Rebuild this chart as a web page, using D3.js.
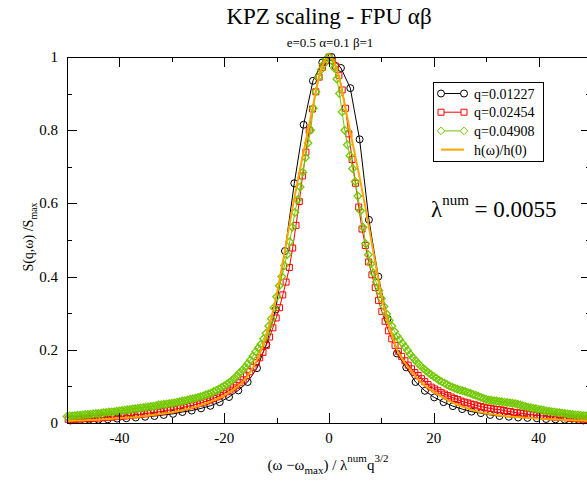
<!DOCTYPE html>
<html>
<head>
<meta charset="utf-8">
<script src="https://cdn.jsdelivr.net/npm/d3@7"></script>
<style>
  body { margin: 0; background: #fff; }
</style>
</head>
<body>
<svg id="chart" width="587" height="482"></svg>
<script>
// series labels
const seriesLabels = ["q=0.01227", "q=0.02454", "q=0.04908", "h(\u03c9)/h(0)"];

// q=0.01227 (sampled every 1.78 units)
const q1Start = -49.34, q1Step = 1.78;
const q1Values = [0.007, 0.008, 0.009, 0.009, 0.010, 0.012, 0.013, 0.015, 0.017, 0.019,
  0.022, 0.025, 0.030, 0.034, 0.040, 0.047, 0.057, 0.071, 0.089, 0.112,
  0.150, 0.215, 0.31, 0.47, 0.655, 0.815, 0.935, 0.985, 1.0,
  0.97, 0.915, 0.775, 0.555, 0.40, 0.285, 0.19, 0.152, 0.112, 0.088,
  0.070, 0.057, 0.046, 0.038, 0.031, 0.027, 0.022, 0.019, 0.017, 0.015,
  0.014, 0.013, 0.011, 0.010, 0.009, 0.008, 0.007];

// q=0.02454 (sampled every 0.63 units)
const q2Start = -49.77, q2Step = 0.63;
const q2Values = [0.010, 0.010, 0.010, 0.011, 0.011, 0.012, 0.012, 0.013, 0.013, 0.014,
  0.014, 0.015, 0.016, 0.016, 0.017, 0.018, 0.018, 0.019, 0.020, 0.021,
  0.022, 0.023, 0.024, 0.025, 0.026, 0.028, 0.029, 0.030, 0.031, 0.033,
  0.034, 0.036, 0.037, 0.039, 0.041, 0.043, 0.045, 0.047, 0.049, 0.052,
  0.054, 0.057, 0.060, 0.063, 0.067, 0.071, 0.075, 0.080, 0.085, 0.090,
  0.096, 0.102, 0.110, 0.118, 0.129, 0.140, 0.152, 0.165, 0.178, 0.193,
  0.212, 0.235, 0.260, 0.287, 0.315, 0.350, 0.385, 0.425, 0.478, 0.540,
  0.605, 0.675, 0.740, 0.800, 0.858, 0.905, 0.945, 0.972, 0.990, 1.0,
  0.99, 0.975, 0.95, 0.91, 0.86, 0.79, 0.72, 0.655, 0.59, 0.53,
  0.485, 0.44, 0.405, 0.37, 0.335, 0.305, 0.278, 0.252, 0.23, 0.212,
  0.196, 0.182, 0.17, 0.158, 0.148, 0.138, 0.13, 0.121, 0.113, 0.105,
  0.098, 0.093, 0.088, 0.083, 0.079, 0.075, 0.071, 0.067, 0.064, 0.06,
  0.057, 0.055, 0.052, 0.05, 0.047, 0.045, 0.043, 0.041, 0.04, 0.038,
  0.037, 0.036, 0.034, 0.032, 0.031, 0.029, 0.028, 0.027, 0.026, 0.024,
  0.023, 0.022, 0.021, 0.02, 0.019, 0.018, 0.017, 0.017, 0.016, 0.015,
  0.015, 0.014, 0.013, 0.013, 0.012, 0.011, 0.011, 0.010, 0.010];

// q=0.04908 (sampled every 0.5 units)
const q3Start = -50, q3Step = 0.5;
const q3Values = [0.018, 0.019, 0.019, 0.020, 0.021, 0.021, 0.022, 0.023, 0.023, 0.024,
  0.025, 0.026, 0.026, 0.027, 0.028, 0.029, 0.030, 0.030, 0.031, 0.032,
  0.033, 0.034, 0.035, 0.036, 0.037, 0.038, 0.039, 0.040, 0.041, 0.042,
  0.043, 0.044, 0.045, 0.046, 0.047, 0.049, 0.050, 0.051, 0.052, 0.053,
  0.054, 0.055, 0.057, 0.058, 0.060, 0.061, 0.063, 0.065, 0.066, 0.068,
  0.070, 0.072, 0.074, 0.077, 0.079, 0.082, 0.086, 0.089, 0.093, 0.097,
  0.101, 0.106, 0.111, 0.117, 0.123, 0.130, 0.138, 0.145, 0.153, 0.162,
  0.172, 0.183, 0.195, 0.205, 0.215, 0.230, 0.245, 0.265, 0.285, 0.315,
  0.345, 0.375, 0.400, 0.430, 0.460, 0.495, 0.535, 0.575, 0.610, 0.645,
  0.685, 0.725, 0.765, 0.800, 0.860, 0.905, 0.945, 0.965, 0.980, 0.995,
  1.0,
  0.990, 0.970, 0.940, 0.900, 0.850, 0.800, 0.760, 0.730, 0.695, 0.660,
  0.620, 0.580, 0.535, 0.490, 0.460, 0.435, 0.410, 0.385, 0.362, 0.340,
  0.318, 0.298, 0.280, 0.265, 0.250, 0.238, 0.228, 0.218, 0.208, 0.198,
  0.188, 0.179, 0.171, 0.163, 0.156, 0.149, 0.143, 0.137, 0.132, 0.127,
  0.122, 0.117, 0.113, 0.109, 0.105, 0.101, 0.098, 0.095, 0.092, 0.090,
  0.088, 0.086, 0.083, 0.081, 0.078, 0.076, 0.073, 0.070, 0.067, 0.065,
  0.063, 0.062, 0.061, 0.060, 0.059, 0.058, 0.057, 0.056, 0.055, 0.054,
  0.053, 0.051, 0.049, 0.047, 0.045, 0.043, 0.042, 0.040, 0.039, 0.037,
  0.036, 0.035, 0.033, 0.032, 0.031, 0.030, 0.029, 0.028, 0.027, 0.026,
  0.025, 0.024, 0.023, 0.022, 0.022, 0.021, 0.020, 0.020, 0.019, 0.019];

// h(w)/h(0) (sampled every 1 unit)
const hStart = -50, hStep = 1;
const hValues = [0.006, 0.006, 0.007, 0.007, 0.008, 0.008, 0.009, 0.010, 0.011, 0.012,
  0.013, 0.014, 0.015, 0.016, 0.018, 0.019, 0.021, 0.023, 0.025, 0.027,
  0.029, 0.032, 0.035, 0.038, 0.042, 0.046, 0.051, 0.056, 0.062, 0.068,
  0.075, 0.084, 0.094, 0.105, 0.12, 0.14, 0.165, 0.197, 0.238, 0.288,
  0.35, 0.425, 0.505, 0.585, 0.66, 0.73, 0.80, 0.87, 0.94, 0.985,
  1.0,
  0.985, 0.94, 0.87, 0.80, 0.73, 0.66, 0.585, 0.505, 0.425, 0.35,
  0.29, 0.24, 0.2, 0.175, 0.155, 0.137, 0.12, 0.106, 0.095, 0.085,
  0.076, 0.068, 0.06, 0.053, 0.047, 0.042, 0.037, 0.033, 0.029, 0.026,
  0.024, 0.022, 0.020, 0.018, 0.017, 0.016, 0.015, 0.014, 0.013, 0.012,
  0.011, 0.010, 0.010, 0.009, 0.008, 0.008, 0.007, 0.007, 0.006, 0.006];

const xTicks = [-40, -20, 0, 20, 40];
const yTicks = [0, 0.2, 0.4, 0.6, 0.8, 1];
const yTickLabels = ["0", "0.2", "0.4", "0.6", "0.8", "1"];

const FONT = "'Liberation Serif', 'Times New Roman', 'DejaVu Serif', serif";

const svg = d3.select("#chart").attr("font-family", FONT);
const margin = { top: 57, left: 67 };
const plotW = 524, plotH = 366;

const x = d3.scaleLinear().domain([-50, 50]).range([0, plotW]);
const y = d3.scaleLinear().domain([0, 1]).range([plotH, 0]);

const g = svg.append("g").attr("transform", `translate(${margin.left},${margin.top})`);

const toPoints = (start, step, vals) => vals.map((v, i) => [start + i * step, v]);

const colors = ["#000000", "#ff0000", "#72c800", "#ffa500"];

// axes (Grace-style frame, ticks inside)
const minorX = d3.range(-50, 51, 10);
const minorY = d3.range(0, 1.01, 0.1);

function frame() {
  const ax = g.append("g").attr("stroke", "#000").attr("stroke-width", 1).attr("fill", "none");
  ax.append("rect").attr("x", 0.5).attr("y", 0.5).attr("width", plotW).attr("height", plotH);
  minorX.forEach((t) => {
    const major = xTicks.includes(t);
    const len = major ? 10 : 5;
    const px = Math.round(x(t)) + 0.5;
    ax.append("line").attr("x1", px).attr("x2", px).attr("y1", plotH).attr("y2", plotH - len);
    ax.append("line").attr("x1", px).attr("x2", px).attr("y1", 0).attr("y2", len);
  });
  minorY.forEach((t) => {
    const major = yTicks.some((v) => Math.abs(v - t) < 1e-6);
    const len = major ? 10 : 5;
    const py = Math.round(y(t)) + 0.5;
    ax.append("line").attr("x1", 0).attr("x2", len).attr("y1", py).attr("y2", py);
    ax.append("line").attr("x1", plotW).attr("x2", plotW - len).attr("y1", py).attr("y2", py);
  });
}

// series
const lineGen = d3.line().x((d) => x(d[0])).y((d) => y(d[1]));
const circlePath = "M3.5,0A3.5,3.5 0 1,1 -3.5,0A3.5,3.5 0 1,1 3.5,0Z";
const squarePath = "M-3,-3H3V3H-3Z";
const diamondPath = "M0,-3.8L3.8,0L0,3.8L-3.8,0Z";

function drawSeries(pts, color, marker, sw) {
  g.append("path").datum(pts).attr("d", lineGen)
    .attr("fill", "none").attr("stroke", color).attr("stroke-width", 1);
  g.append("g").selectAll("path").data(pts).join("path")
    .attr("transform", (d) => `translate(${x(d[0])},${y(d[1])})`)
    .attr("d", marker)
    .attr("fill", "none").attr("stroke", color).attr("stroke-width", sw);
}

drawSeries(toPoints(q1Start, q1Step, q1Values), colors[0], circlePath, 1);
drawSeries(toPoints(q2Start, q2Step, q2Values), colors[1], squarePath, 1);
drawSeries(toPoints(q3Start, q3Step, q3Values), colors[2], diamondPath, 1.3);

g.append("path").datum(toPoints(hStart, hStep, hValues))
  .attr("d", lineGen.curve(d3.curveMonotoneX))
  .attr("fill", "none").attr("stroke", colors[3]).attr("stroke-width", 2);

frame();

// tick labels
g.append("g").selectAll("text").data(xTicks).join("text")
  .attr("x", (d) => x(d)).attr("y", plotH + 20)
  .attr("text-anchor", "middle").style("font-size", "15px")
  .text((d) => d);
g.append("g").selectAll("text").data(yTicks).join("text")
  .attr("x", -9).attr("y", (d) => y(d) + 5)
  .attr("text-anchor", "end").style("font-size", "15px")
  .text((d, i) => yTickLabels[i]);

// titles
svg.append("text").attr("x", 329).attr("y", 24).attr("text-anchor", "middle")
  .style("font-size", "23px").text("KPZ scaling - FPU \u03b1\u03b2");
svg.append("text").attr("x", 330).attr("y", 47).attr("text-anchor", "middle")
  .style("font-size", "13px").text("e=0.5 \u03b1=0.1 \u03b2=1");

// x label
const xl = svg.append("text").attr("x", 328).attr("y", 470).attr("text-anchor", "middle")
  .style("font-size", "15px");
xl.append("tspan").text("(\u03c9 \u2212\u03c9");
xl.append("tspan").attr("dy", 4).style("font-size", "11px").text("max");
xl.append("tspan").attr("dy", -4).text(") / \u03bb");
xl.append("tspan").attr("dy", -8).style("font-size", "11px").text("num");
xl.append("tspan").attr("dy", 8).text("q");
xl.append("tspan").attr("dy", -8).style("font-size", "11px").text("3/2");

// y label
const yl = svg.append("text").attr("transform", "translate(33,237) rotate(-90)")
  .attr("text-anchor", "middle").style("font-size", "14px");
yl.append("tspan").text("S(q,\u03c9) /S");
yl.append("tspan").attr("dy", 4).style("font-size", "10px").text("max");

// lambda annotation
const lam = svg.append("text").attr("x", 431).attr("y", 217).style("font-size", "23px");
lam.append("tspan").text("\u03bb");
lam.append("tspan").attr("dy", -12).style("font-size", "15px").text("num");
lam.append("tspan").attr("dy", 12).text(" = 0.0055");

// legend
const lg = svg.append("g").attr("transform", "translate(433,82)");
lg.append("rect").attr("x", 0.5).attr("y", 0.5).attr("width", 110).attr("height", 79)
  .attr("fill", "#fff").attr("stroke", "#000");
const markers = [circlePath, squarePath, diamondPath, null];
seriesLabels.forEach((lab, i) => {
  const cy = 11.5 + i * 18.7;
  const row = lg.append("g").attr("transform", `translate(0,${cy})`);
  row.append("line").attr("x1", 8).attr("x2", 31).attr("y1", 0).attr("y2", 0)
    .attr("stroke", colors[i]).attr("stroke-width", i === 3 ? 2 : 1);
  if (markers[i]) {
    [8, 31].forEach((mx) => row.append("path").attr("d", markers[i])
      .attr("transform", `translate(${mx},0)`)
      .attr("fill", "#fff").attr("stroke", colors[i]));
  }
  row.append("text").attr("x", 41).attr("y", 5).style("font-size", "14px").text(lab);
});
</script>
</body>
</html>
